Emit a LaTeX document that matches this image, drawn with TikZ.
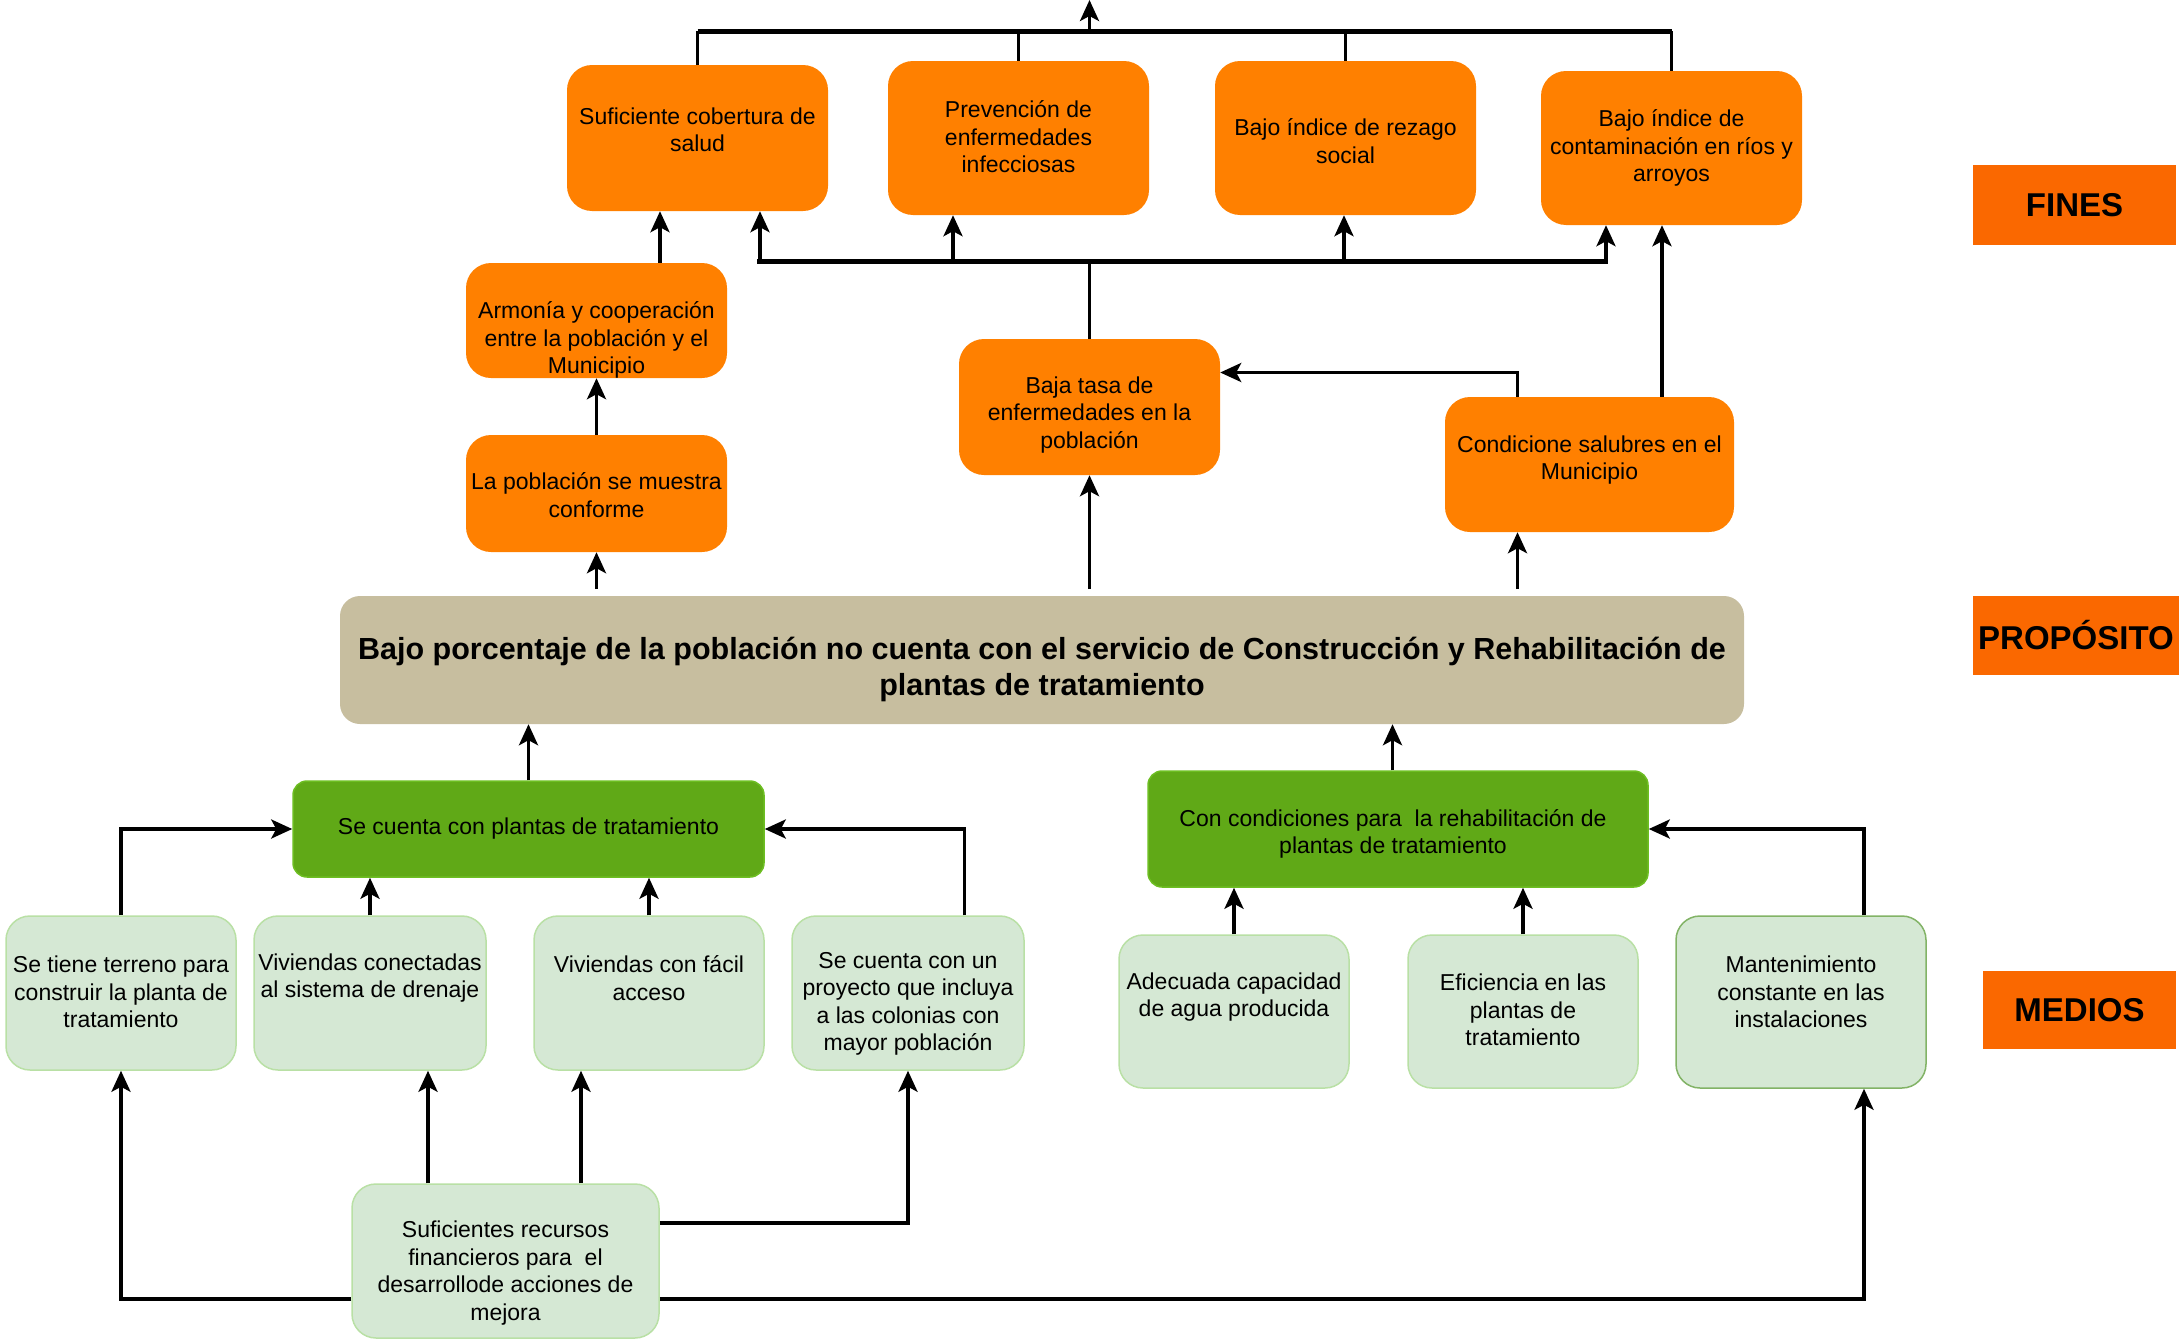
\documentclass[tikz,border=0pt]{standalone}
\usepackage{fontspec}
\setmainfont{Liberation Sans}
\usetikzlibrary{arrows.meta,calc}
\definecolor{orfill}{HTML}{FF8000}
\definecolor{lblfill}{HTML}{FA6800}
\definecolor{propfill}{HTML}{C7BE9F}
\definecolor{dgreen}{HTML}{60A917}
\definecolor{dgreenline}{HTML}{6DBE22}
\definecolor{lgreen}{HTML}{D5E8D4}
\definecolor{lgreenline}{HTML}{B9E0A5}
\definecolor{mgreenline}{HTML}{82B366}
\begin{document}
\begin{tikzpicture}[x=1pt,y=-1pt,
  fin/.style={fill=orfill, draw=none, rounded corners=25pt, inner sep=0pt, minimum width=261pt},
  prop/.style={fill=propfill, draw=none, rounded corners=20pt, inner sep=0pt},
  dg/.style={fill=dgreen, draw=dgreenline, line width=1.5pt, rounded corners=14pt, inner sep=0pt},
  lg/.style={fill=lgreen, draw=lgreenline, line width=1.5pt, rounded corners=24pt, inner sep=0pt, minimum width=230pt},
  lbl/.style={fill=lblfill, draw=none, inner sep=0pt, font=\fontsize{33}{40}\selectfont\bfseries},
  txt/.style={align=center, inner sep=0pt, text=black, font=\fontsize{23}{27.5}\selectfont},
  ptxt/.style={align=center, inner sep=0pt, text=black, font=\fontsize{30.5}{36}\selectfont\bfseries},
  ln/.style={line width=3.5pt, draw=black},
  bar/.style={line width=5pt, draw=black},
  arr/.style={line width=3.5pt, draw=black, -{Stealth[length=21pt,width=19pt,inset=5pt]}}
]
\useasboundingbox (0,0) rectangle (2179,1341);

% ---------- FINES boxes ----------
\node[fin, minimum height=146pt] (s1) at (697.5,138) {};
\node[txt] (s1t) at (697.5,130) {Suficiente cobertura de\\salud};
\node[fin, minimum height=154pt] (c2) at (1018.5,138) {};
\node[txt] (c2t) at (1018.5,137) {Prevención de\\enfermedades\\infecciosas};
\node[fin, minimum height=154pt] (c3) at (1345.5,138) {};
\node[txt] (c3t) at (1345.5,141) {Bajo índice de rezago\\social};
\node[fin, minimum height=154pt] (c4) at (1671.5,148) {};
\node[txt] (c4t) at (1671.5,148) {Bajo índice de\\contaminación en ríos y\\arroyos};

\node[fin, minimum height=115pt] (arm) at (596.5,320.5) {};
\node[txt] (armt) at (596.5,340) {Armonía y cooperación\\entre la población y el\\Municipio};
\node[fin, minimum height=117pt] (lp) at (596.5,493.5) {};
\node[txt] (lpt) at (596.5,495) {La población se muestra\\conforme};
\node[fin, minimum height=136pt] (bt) at (1089.5,407) {};
\node[txt] (btt) at (1089.5,415) {Baja tasa de\\enfermedades en la\\población};
\node[fin, minimum width=289pt, minimum height=135pt] (cs) at (1589.5,464.5) {};
\node[txt] (cst) at (1589.5,460) {Condicione salubres en el\\Municipio};

% ---------- PROPOSITO ----------
\node[prop, minimum width=1404pt, minimum height=128pt] (pr) at (1042,660) {};
\node[ptxt] (prt) at (1042,669) {Bajo porcentaje de la población no cuenta con el servicio de Construcción y Rehabilitación de\\plantas de tratamiento};

% ---------- MEDIOS ----------
\node[dg, minimum width=471pt, minimum height=96pt] (pl) at (528.5,829) {};
\node[txt] (plt) at (528.5,829) {Se cuenta con plantas de tratamiento};
\node[dg, minimum width=500pt, minimum height=116pt] (rh) at (1398,829) {};
\node[txt] (rht) at (1393,834) {Con condiciones para\ \ la rehabilitación de\\plantas de tratamiento};

\node[lg, minimum height=154pt] (te) at (121,993) {};
\node[txt] (tet) at (121,992) {Se tiene terreno para\\construir la planta de\\tratamiento};
\node[lg, minimum width=232pt, minimum height=154pt] (co) at (370,993) {};
\node[txt] (cot) at (370,978) {Viviendas conectadas\\al sistema de drenaje};
\node[lg, minimum height=154pt] (fa) at (649,993) {};
\node[txt] (fat) at (649,978) {Viviendas con fácil\\acceso};
\node[lg, minimum width=232pt, minimum height=154pt] (pj) at (908,993) {};
\node[txt] (pjt) at (908,1004) {Se cuenta con un\\proyecto que incluya\\a las colonias con\\mayor población};

\node[lg, minimum height=153pt] (ad) at (1234,1011.5) {};
\node[txt] (adt) at (1234,997) {Adecuada capacidad\\de agua producida};
\node[lg, minimum height=153pt] (ef) at (1523,1011.5) {};
\node[txt] (eft) at (1523,1010) {Eficiencia en las\\plantas de\\tratamiento};
\node[lg, draw=mgreenline, minimum width=250pt, minimum height=172pt] (mt) at (1801,1002) {};
\node[txt] (mtt) at (1801,992) {Mantenimiento\\constante en las\\instalaciones};

\node[lg, minimum width=307pt, minimum height=154pt] (rc) at (505.5,1261) {};
\node[txt] (rct) at (505.5,1273) {Suficientes recursos\\financieros para\ \ el\\desarrollode acciones de\\mejora};

% ---------- side labels ----------
\node[lbl, minimum width=203pt, minimum height=80pt] (lf) at (2074.5,205) {FINES};
\node[lbl, minimum width=206pt, minimum height=79pt] (lpr) at (2076,635.5) {PROPÓSITO};
\node[lbl, minimum width=193pt, minimum height=78pt] (lm) at (2079.5,1010) {MEDIOS};

% ---------- helper coordinates ----------
\coordinate (tb) at (0,31);
\coordinate (up) at (1089.5,0);
\coordinate (bL) at (757,261);
\coordinate (bR) at (1608,261);
\coordinate (b1) at (760,261);
\coordinate (b2) at (953,261);
\coordinate (b3) at (1344,261);
\coordinate (b4) at (1606,261);
\coordinate (a1) at (660,0);
\coordinate (x1) at (1517.5,0);
\coordinate (yb) at (0,372.5);
\coordinate (x2) at (1662,0);
\coordinate (x3) at (964.5,0);
\coordinate (x4) at (1864,0);
\coordinate (y5) at (0,1299);
\coordinate (x6) at (428,0);
\coordinate (x7) at (581,0);
\coordinate (y8) at (0,1223);
\coordinate (xr) at (1392.5,0);
\coordinate (yp) at (0,589);

% ---------- top connectors ----------
\draw[ln] (s1.north) -- (s1.north |- tb);
\draw[ln] (c2.north) -- (c2.north |- tb);
\draw[ln] (c3.north) -- (c3.north |- tb);
\draw[ln] (c4.north) -- (c4.north |- tb);
\draw[bar] (s1.north |- tb) -- (c4.north |- tb);
\draw[arr] (up |- tb) -- (up);

\draw[bar] (bL) -- (bR);
\draw[ln] (bt.north) -- (bt.north |- bL);
\draw[arr] (b1) -- (b1 |- s1.south);
\draw[arr] (b2) -- (b2 |- c2.south);
\draw[arr] (b3) -- (b3 |- c3.south);
\draw[arr] (b4) -- (b4 |- c4.south);

\draw[arr] (a1 |- arm.north) -- (a1 |- s1.south);
\draw[arr] (lp.north) -- (arm.south);
\draw[arr] (lp.south |- yp) -- (lp.south);
\draw[arr] (bt.south |- yp) -- (bt.south);
\draw[arr] (x1 |- yp) -- (x1 |- cs.south);
\draw[arr] (x1 |- cs.north) |- (bt.east |- yb);
\draw[arr] (x2 |- cs.north) -- (x2 |- c4.south);

% ---------- medios connectors ----------
\draw[arr] (pl.north) -- (pl.north |- pr.south);
\draw[arr] (xr |- rh.north) -- (xr |- pr.south);
\draw[arr] (te.north) |- (pl.west);
\draw[arr] (co.north) -- (co.north |- pl.south);
\draw[arr] (fa.north) -- (fa.north |- pl.south);
\draw[arr] (x3 |- pj.north) |- (pl.east);
\draw[arr] (ad.north) -- (ad.north |- rh.south);
\draw[arr] (ef.north) -- (ef.north |- rh.south);
\draw[arr] (x4 |- mt.north) |- (rh.east);

\draw[arr] (rc.west |- y5) -| (te.south);
\draw[arr] (x6 |- rc.north) -- (x6 |- co.south);
\draw[arr] (x7 |- rc.north) -- (x7 |- fa.south);
\draw[arr] (rc.east |- y8) -| (pj.south);
\draw[arr] (rc.east |- y5) -| (x4 |- mt.south);
\end{tikzpicture}
\end{document}
